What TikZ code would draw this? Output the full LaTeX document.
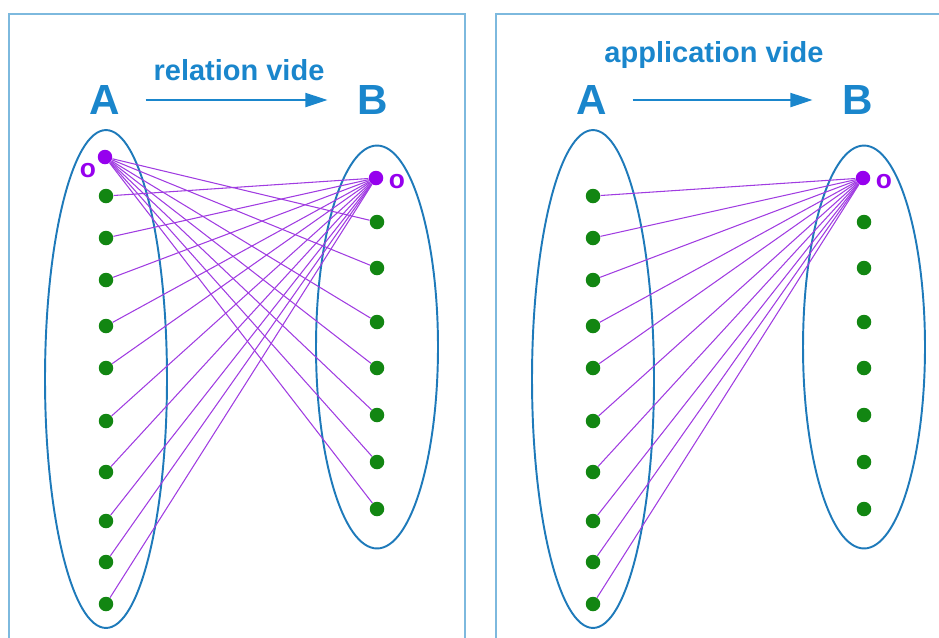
\documentclass[tikz,border=0pt]{standalone}
\usepackage{xcolor}
\usepackage{fontspec}
\setsansfont{Liberation Sans}
\usepackage{tikz}
\usetikzlibrary{shapes.geometric, arrows.meta, positioning}

\definecolor{framebl}{RGB}{125,185,222}
\definecolor{setbl}{RGB}{30,122,186}
\definecolor{textbl}{RGB}{26,134,204}
\definecolor{dotgr}{RGB}{18,134,18}
\definecolor{dotpu}{RGB}{150,0,238}
\definecolor{linkpu}{RGB}{160,60,225}

\begin{document}
\begin{tikzpicture}[
    x=0.02cm, y=-0.02cm,
    every node/.style={font=\sffamily\bfseries},
    frame/.style={
        draw=framebl,
        line width=1.1pt
    },
    set/.style={
        ellipse,
        draw=setbl,
        line width=1.1pt,
        inner sep=0pt,
        outer sep=0pt,
        minimum width=2.44cm
    },
    elem/.style={
        circle,
        fill=dotgr,
        inner sep=0pt,
        minimum size=0.29cm
    },
    empty/.style={
        elem,
        fill=dotpu
    },
    nought/.style={
        text=dotpu,
        font=\sffamily\bfseries\fontsize{15}{16}\selectfont
    },
    setname/.style={
        text=textbl,
        inner sep=0pt,
        font=\sffamily\bfseries\fontsize{24}{26}\selectfont
    },
    title/.style={
        text=textbl,
        anchor=base,
        font=\sffamily\bfseries\fontsize{16.5}{18}\selectfont
    },
    arrow/.style={
        -{Triangle[length=0.44cm, width=0.28cm]},
        draw=textbl,
        line width=1.1pt,
        shorten <=0.5cm,
        shorten >=0.6cm
    },
    link/.style={
        draw=linkpu,
        line width=0.6pt
    }
]
\useasboundingbox (0,0) rectangle (939,637);

% frames
\draw [frame] (9,640) -- (9,14) -- (465,14) -- (465,640);
\draw [frame] (496,640) -- (496,14) -- (942,14);

% left: relation vide
\node (t1) [title] at (239,80) {relation vide};
\node (lA) [setname] at (105,100) {A};
\node (lB) [setname] at (373,100) {B};
\draw [arrow] (lA.east) -- (lB.west);

\node (lsetA) [set, minimum height=9.96cm] at (106,379) {};
\node (lsetB) [set, minimum height=8.06cm] at (377,347) {};

\node (la0) [empty] at (105,157) {};
\node (lo1) [nought] at (88,171) {o};
\foreach \i/\y in {1/196,2/238,3/280,4/326,5/368,6/421,7/472,8/521,9/562,10/604}
    \node (la\i) [elem] at (106,\y) {};

\node (lb0) [empty] at (376,178) {};
\node (lo2) [nought] at (397,182) {o};
\foreach \i/\y in {1/222,2/268,3/322,4/368,5/415,6/462,7/509}
    \node (lb\i) [elem] at (377,\y) {};

\foreach \i in {1,...,7}
    \draw [link] (la0) -- (lb\i);
\foreach \i in {1,...,10}
    \draw [link] (la\i) -- (lb0);

% right: application vide
\node (t2) [title] at (714,62) {application vide};
\node (rA) [setname] at (592,100) {A};
\node (rB) [setname] at (858,100) {B};
\draw [arrow] (rA.east) -- (rB.west);

\node (rsetA) [set, minimum height=9.96cm] at (593,379) {};
\node (rsetB) [set, minimum height=8.06cm] at (864,347) {};

\foreach \i/\y in {1/196,2/238,3/280,4/326,5/368,6/421,7/472,8/521,9/562,10/604}
    \node (ra\i) [elem] at (593,\y) {};

\node (rb0) [empty] at (863,178) {};
\node (ro2) [nought] at (884,182) {o};
\foreach \i/\y in {1/222,2/268,3/322,4/368,5/415,6/462,7/509}
    \node (rb\i) [elem] at (864,\y) {};

\foreach \i in {1,...,10}
    \draw [link] (ra\i) -- (rb0);

\end{tikzpicture}
\end{document}
